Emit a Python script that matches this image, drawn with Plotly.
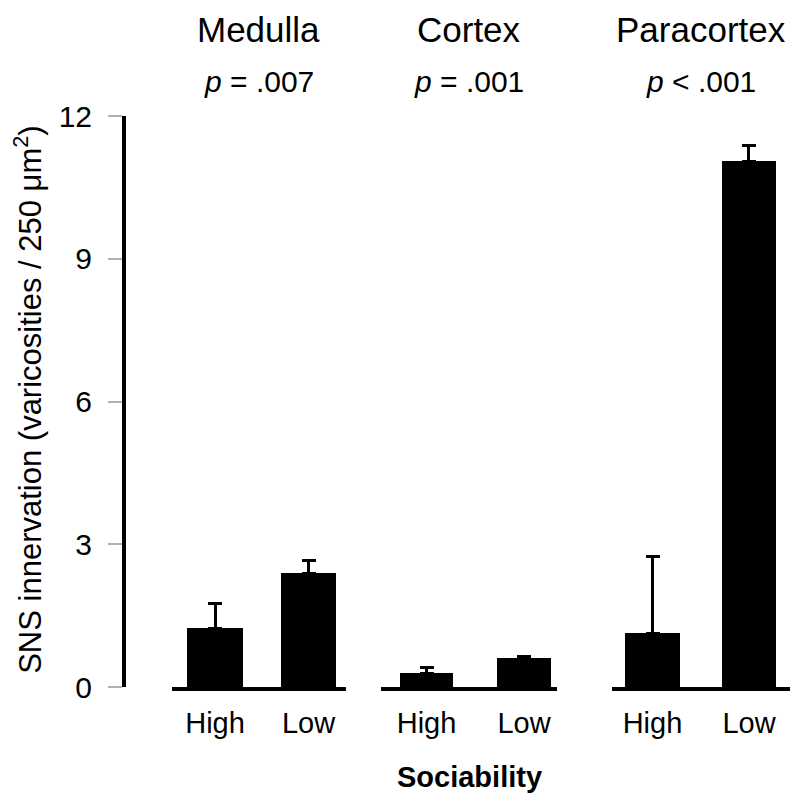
import plotly.graph_objects as go

# ---- data ----
regions = ["Medulla", "Cortex", "Paracortex"]
p_labels = ["<i>p</i> = .007", "<i>p</i> = .001", "<i>p</i> < .001"]
groups = ["High", "Low"]
means = {
    "Medulla": [1.24, 2.39],
    "Cortex": [0.29, 0.61],
    "Paracortex": [1.13, 11.05],
}
errors = {
    "Medulla": [0.52, 0.26],
    "Cortex": [0.13, 0.03],
    "Paracortex": [1.62, 0.32],
}
y_ticks = [0, 3, 6, 9, 12]
y_title = "SNS innervation (varicosities / 250 μm<sup>2</sup>)"
x_title = "Sociability"

# ---- styling / layout ----
FONT = "Liberation Sans, Arial, Helvetica, sans-serif"
domains = [(0.0721, 0.3333), (0.3859, 0.6502), (0.7327, 1.0)]
xranges = [(-0.46, 1.40), (-0.467, 1.338), (-0.42, 1.425)]
bar_widths = [0.59, 0.55, 0.565]

fig = go.Figure()
axis_names = ["x", "x2", "x3"]
for i, reg in enumerate(regions):
    fig.add_trace(go.Bar(
        x=groups, y=means[reg],
        xaxis=axis_names[i], yaxis="y",
        marker=dict(color="black", line=dict(width=0)),
        width=bar_widths[i],
        error_y=dict(type="data", symmetric=False, array=errors[reg],
                     arrayminus=[0] * len(groups), color="black",
                     thickness=3, width=7),
        showlegend=False,
        hoverinfo="skip",
    ))

layout = dict(
    width=800, height=804,
    margin=dict(l=116, r=18, t=108, b=125),
    paper_bgcolor="white", plot_bgcolor="white",
    font=dict(family=FONT, color="black"),
    bargap=0,
    yaxis=dict(
        range=[0, 12], tickvals=y_ticks, showgrid=False, zeroline=False,
        showline=True, linewidth=4, linecolor="black",
        ticks="outside", ticklen=14, tickwidth=1.5, tickcolor="#b0b0b0",
        ticklabelstandoff=10,
        tickfont=dict(size=30, family=FONT, color="black"),
        anchor="free", position=0, domain=[0, 1],
    ),
)
for i, name in enumerate(axis_names):
    key = "xaxis" if name == "x" else "xaxis" + name[1:]
    layout[key] = dict(
        domain=list(domains[i]), anchor="y",
        type="category", categoryarray=groups,
        range=list(xranges[i]),
        showline=True, linewidth=4, linecolor="black",
        ticks="", showgrid=False, zeroline=False,
        ticklabelstandoff=7,
        tickfont=dict(size=29, family=FONT, color="black"),
    )
fig.update_layout(**layout)

annotations = []
dom_refs = ["x domain", "x2 domain", "x3 domain"]
for i, reg in enumerate(regions):
    annotations.append(dict(
        text=reg, xref=dom_refs[i], x=0.5, yref="paper", y=1.151,
        xanchor="center", yanchor="middle", showarrow=False,
        font=dict(size=35, family=FONT, color="black"),
    ))
    annotations.append(dict(
        text=p_labels[i], xref=dom_refs[i], x=0.5, yref="paper", y=1.061,
        xanchor="center", yanchor="middle", showarrow=False,
        font=dict(size=30, family=FONT, color="black"),
    ))
annotations.append(dict(
    text="<b>%s</b>" % x_title, xref="x2 domain", x=0.5, yref="paper", y=-0.158,
    xanchor="center", yanchor="middle", showarrow=False,
    font=dict(size=29, family=FONT, color="black"),
))
annotations.append(dict(
    text=y_title, xref="paper", x=-0.1441, yref="paper", y=0.503,
    xanchor="center", yanchor="middle", textangle=-90, showarrow=False,
    font=dict(size=31, family=FONT, color="black"),
))
fig.update_layout(annotations=annotations)

fig.write_html("out.html")
